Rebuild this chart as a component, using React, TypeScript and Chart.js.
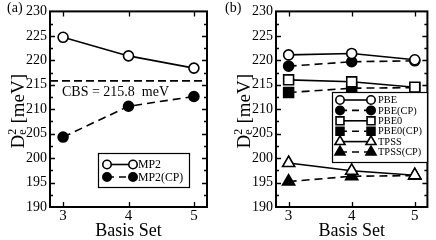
import React, { useEffect, useRef } from "react";
import { Chart, registerables } from "chart.js";

Chart.register(...registerables);

// ---- data ----
const basisSets = [3, 4, 5];
const xRange = [2.8, 5.2];
const yRange = [190, 230];
const yStep = 5;

const mp2 = [224.7, 220.9, 218.4];
const mp2Cp = [204.3, 210.6, 212.6];
const cbsValue = 215.8;
const cbsLabel = "CBS = 215.8  meV";

const pbe = [221.1, 221.4, 220.1];
const pbeCp = [218.8, 219.7, 219.9];
const pbe0 = [216.0, 215.6, 214.5];
const pbe0Cp = [213.4, 214.3, 214.4];
const tpss = [199.0, 197.4, 196.5];
const tpssCp = [195.2, 196.3, 196.4];

const xTitle = "Basis Set";
const panelLabels = ["(a)", "(b)"];

type Marker = "circle" | "rect" | "triangle";
type Series = { label: string; values: number[]; marker: Marker; filled: boolean; dashed: boolean };

const seriesA: Series[] = [
  { label: "MP2", values: mp2, marker: "circle", filled: false, dashed: false },
  { label: "MP2(CP)", values: mp2Cp, marker: "circle", filled: true, dashed: true },
];
const seriesB: Series[] = [
  { label: "PBE", values: pbe, marker: "circle", filled: false, dashed: false },
  { label: "PBE(CP)", values: pbeCp, marker: "circle", filled: true, dashed: true },
  { label: "PBE0", values: pbe0, marker: "rect", filled: false, dashed: false },
  { label: "PBE0(CP)", values: pbe0Cp, marker: "rect", filled: true, dashed: true },
  { label: "TPSS", values: tpss, marker: "triangle", filled: false, dashed: false },
  { label: "TPSS(CP)", values: tpssCp, marker: "triangle", filled: true, dashed: true },
];

const SERIF = "'Liberation Serif', 'DejaVu Serif', serif";
const markerRadius: Record<Marker, number> = { circle: 5, rect: 7, triangle: 7 };
const legendRadius: Record<Marker, number> = { circle: 4.2, rect: 5.6, triangle: 5.8 };

function drawMarker(ctx: CanvasRenderingContext2D, m: Marker, x: number, y: number, r: number, filled: boolean) {
  ctx.save();
  ctx.setLineDash([]);
  ctx.beginPath();
  if (m === "circle") {
    ctx.arc(x, y, r, 0, Math.PI * 2);
  } else if (m === "rect") {
    const s = r * Math.SQRT1_2;
    ctx.rect(x - s, y - s, 2 * s, 2 * s);
  } else {
    ctx.moveTo(x, y - r);
    ctx.lineTo(x + 0.866 * r, y + 0.5 * r);
    ctx.lineTo(x - 0.866 * r, y + 0.5 * r);
    ctx.closePath();
  }
  ctx.fillStyle = filled ? "#000" : "#fff";
  ctx.fill();
  ctx.lineWidth = 1.6;
  ctx.strokeStyle = "#000";
  ctx.stroke();
  ctx.restore();
}

type LegendCfg = {
  box: [number, number, number, number];
  rows: number[];
  mx: [number, number];
  tx: number;
  font: number;
};

type PanelCfg = {
  label: string;
  series: Series[];
  yAxisWidth: number;
  padRight: number;
  legend: LegendCfg;
  refLine?: { value: number; text: string };
};

function Panel({ cfg, left }: { cfg: PanelCfg; left: number }) {
  const ref = useRef<HTMLCanvasElement | null>(null);
  useEffect(() => {
    document.body.style.margin = "0";
    const canvas = ref.current!;
    const datasets: any[] = cfg.series.map((s) => ({
      label: s.label,
      data: basisSets.map((b, i) => ({ x: b, y: s.values[i] })),
      borderColor: "#000",
      borderWidth: 1.6,
      borderDash: s.dashed ? [8, 5] : [],
      pointStyle: s.marker,
      pointRadius: markerRadius[s.marker],
      pointBorderWidth: 1.6,
      pointBackgroundColor: s.filled ? "#000" : "#fff",
      pointBorderColor: "#000",
      fill: false,
      tension: 0,
    }));
    if (cfg.refLine) {
      datasets.unshift({
        label: "ref",
        data: [
          { x: xRange[0], y: cfg.refLine.value },
          { x: xRange[1], y: cfg.refLine.value },
        ],
        borderColor: "#000",
        borderWidth: 1.6,
        borderDash: [8, 4],
        pointRadius: 0,
        fill: false,
      });
    }

    const deco = {
      id: "deco",
      afterDraw(chart: any) {
        const ctx: CanvasRenderingContext2D = chart.ctx;
        const a = chart.chartArea;
        const xs = chart.scales.x;
        const ys = chart.scales.y;
        ctx.save();
        // frame
        ctx.strokeStyle = "#000";
        ctx.lineWidth = 2;
        ctx.setLineDash([]);
        ctx.strokeRect(a.left, a.top, a.right - a.left, a.bottom - a.top);
        // ticks
        ctx.lineWidth = 1.3;
        ctx.beginPath();
        for (let v = yRange[0] + yStep / 2; v < yRange[1]; v += yStep / 2) {
          const major = Math.abs((v - yRange[0]) % yStep) < 1e-6;
          const len = major ? 5 : 3;
          const y = Math.round(ys.getPixelForValue(v)) + 0.5;
          ctx.moveTo(a.left, y);
          ctx.lineTo(a.left + len, y);
          ctx.moveTo(a.right, y);
          ctx.lineTo(a.right - len, y);
        }
        for (const b of basisSets) {
          const x = Math.round(xs.getPixelForValue(b)) + 0.5;
          ctx.moveTo(x, a.bottom);
          ctx.lineTo(x, a.bottom - 5);
          ctx.moveTo(x, a.top);
          ctx.lineTo(x, a.top + 5);
        }
        ctx.stroke();

        // reference label
        if (cfg.refLine) {
          ctx.fillStyle = "#000";
          ctx.font = `14px ${SERIF}`;
          ctx.textBaseline = "middle";
          ctx.textAlign = "left";
          ctx.fillText(cfg.refLine.text, a.left + 12, ys.getPixelForValue(cfg.refLine.value) + 11);
        }

        // legend
        const L = cfg.legend;
        ctx.fillStyle = "#fff";
        ctx.fillRect(L.box[0], L.box[1], L.box[2] - L.box[0], L.box[3] - L.box[1]);
        ctx.lineWidth = 1.2;
        ctx.strokeStyle = "#000";
        ctx.strokeRect(L.box[0] + 0.5, L.box[1] + 0.5, L.box[2] - L.box[0], L.box[3] - L.box[1]);
        cfg.series.forEach((s, i) => {
          const y = L.rows[i];
          ctx.beginPath();
          ctx.lineWidth = 1.6;
          ctx.setLineDash(s.dashed ? [7, 5] : []);
          ctx.moveTo(L.mx[0], y);
          ctx.lineTo(L.mx[1], y);
          ctx.stroke();
          ctx.setLineDash([]);
          drawMarker(ctx, s.marker, L.mx[0], y, legendRadius[s.marker], s.filled);
          drawMarker(ctx, s.marker, L.mx[1], y, legendRadius[s.marker], s.filled);
          ctx.fillStyle = "#000";
          ctx.font = `${L.font}px ${SERIF}`;
          ctx.textBaseline = "middle";
          ctx.textAlign = "left";
          ctx.fillText(s.label, L.tx, y + 0.5);
        });

        // panel label
        ctx.fillStyle = "#000";
        ctx.font = `14px ${SERIF}`;
        ctx.textBaseline = "middle";
        ctx.textAlign = "left";
        ctx.fillText(cfg.label, 7, 8);

        // x title
        ctx.font = `18px ${SERIF}`;
        ctx.textAlign = "center";
        ctx.fillText(xTitle, (a.left + a.right) / 2, 231);

        // y title: D_e^2 [meV]
        const big = `19px ${SERIF}`;
        const small = `12px ${SERIF}`;
        ctx.font = big;
        const wD = ctx.measureText("D").width;
        const wM = ctx.measureText(" [meV]").width;
        ctx.font = small;
        const wS = ctx.measureText("e").width + 1;
        const total = wD + wS + wM;
        const cx = a.left - 26;
        const cy = (a.top + a.bottom) / 2 + 2;
        ctx.translate(cx, cy);
        ctx.rotate(-Math.PI / 2);
        ctx.textAlign = "left";
        ctx.textBaseline = "alphabetic";
        let px = -total / 2;
        ctx.font = big;
        ctx.fillText("D", px, 0);
        px += wD;
        ctx.font = small;
        ctx.fillText("2", px, -8);
        ctx.fillText("e", px, 2);
        px += wS;
        ctx.font = big;
        ctx.fillText(" [meV]", px, 0);
        ctx.restore();
      },
    };

    const chart = new Chart(canvas, {
      type: "line",
      data: { datasets },
      options: {
        animation: false,
        responsive: false,
        maintainAspectRatio: false,
        devicePixelRatio: 1,
        layout: { padding: { left: 0, right: cfg.padRight, top: 7, bottom: 0 } },
        plugins: { legend: { display: false }, tooltip: { enabled: false } },
        scales: {
          x: {
            type: "linear",
            min: xRange[0],
            max: xRange[1],
            afterBuildTicks: (s: any) => {
              s.ticks = basisSets.map((v) => ({ value: v }));
            },
            afterFit: (s: any) => {
              s.height = 33;
            },
            grid: { display: false, drawTicks: false },
            border: { display: false },
            ticks: { color: "#000", font: { family: SERIF, size: 15 }, padding: 0, maxRotation: 0 },
          },
          y: {
            type: "linear",
            min: yRange[0],
            max: yRange[1],
            afterFit: (s: any) => {
              s.width = cfg.yAxisWidth;
            },
            grid: { display: false, drawTicks: false },
            border: { display: false },
            ticks: { stepSize: yStep, color: "#000", font: { family: SERIF, size: 14 }, padding: 3 },
          },
        },
      },
      plugins: [deco],
    } as any);
    return () => chart.destroy();
  }, [cfg]);
  return (
    <canvas
      ref={ref}
      width={218}
      height={240}
      style={{ position: "absolute", left, top: 0, width: 218, height: 240 }}
    />
  );
}

const panelA: PanelCfg = {
  label: panelLabels[0],
  series: seriesA,
  yAxisWidth: 50,
  padRight: 11,
  refLine: { value: cbsValue, text: cbsLabel },
  legend: { box: [98, 153, 189, 187], rows: [164.5, 177], mx: [107, 133], tx: 138, font: 11.8 },
};
const panelB: PanelCfg = {
  label: panelLabels[1],
  series: seriesB,
  yAxisWidth: 58,
  padRight: 4,
  legend: { box: [114, 92, 209, 162], rows: [100, 110.4, 120.8, 131.2, 141.6, 152], mx: [122, 153], tx: 160, font: 10.4 },
};

export default function App() {
  return (
    <div style={{ position: "relative", width: 436, height: 240, background: "#fff" }}>
      <Panel cfg={panelA} left={0} />
      <Panel cfg={panelB} left={218} />
    </div>
  );
}
